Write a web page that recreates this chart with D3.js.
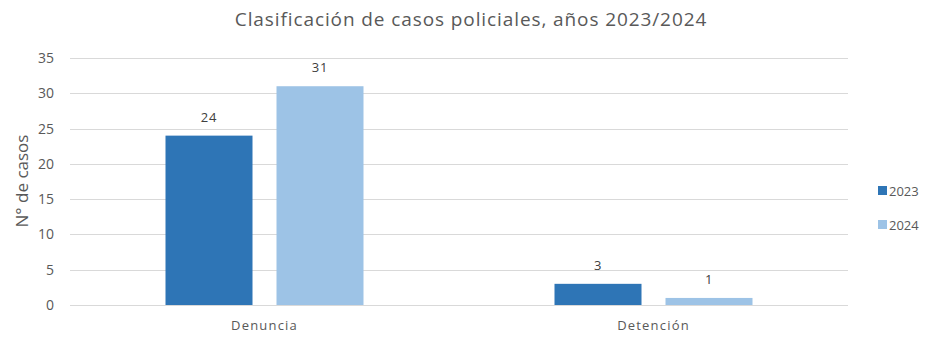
<!DOCTYPE html>
<html><head><meta charset="utf-8">
<script src="https://cdn.jsdelivr.net/npm/d3@7"></script>
<style>body{margin:0;background:#fff;} text{font-family:"Open Sans","Noto Sans",sans-serif;}</style>
</head><body><svg id="c" width="943" height="337"></svg>
<script>
const categories = ["Denuncia", "Detención"];
const years = ["2023", "2024"];
const values2023 = [24, 3];
const values2024 = [31, 1];
const yTicks = [0, 5, 10, 15, 20, 25, 30, 35];
const colors = ["#2E75B6", "#9DC3E6"];

(function () {
const svg = d3.select("#c");
const mL = 70, mR = 848, mT = 58, mB = 305;
const x0 = d3.scaleBand().domain(categories).range([mL, mR]).padding(0);
const groupW = 198;
const x1 = d3.scaleBand().domain(years).range([0, groupW]).paddingInner(0.2162).paddingOuter(0);
const y = d3.scaleLinear().domain([0, 35]).range([mB, mT]);

// grid
svg.append("g").selectAll("line").data(yTicks).join("line")
  .attr("x1", mL).attr("x2", mR)
  .attr("y1", d => Math.round(y(d)) + 0.5).attr("y2", d => Math.round(y(d)) + 0.5)
  .attr("stroke", "#D9D9D9").attr("stroke-width", 1);

// y axis labels
const ya = d3.axisLeft(y).tickValues(yTicks).tickSize(0).tickPadding(0);
const yg = svg.append("g").attr("transform", `translate(54,0)`).call(ya);
yg.select(".domain").remove();
yg.selectAll("text").attr("fill", "#595959").style("font-size", "14px");

// x axis labels
const xa = d3.axisBottom(x0).tickSize(0).tickPadding(0);
const xg = svg.append("g").attr("transform", `translate(0,${mB + 16})`).call(xa);
xg.select(".domain").remove();
xg.selectAll("text").attr("fill", "#595959").style("font-size", "13px").style("letter-spacing", "1.2px");

const rows = categories.map((c, i) => ({cat: c, vals: [values2023[i], values2024[i]]}));
const g = svg.append("g");
rows.forEach(r => {
  const off = x0(r.cat) + (x0.bandwidth() - groupW) / 2;
  years.forEach((yr, j) => {
    const v = r.vals[j];
    g.append("rect").attr("x", off + x1(yr)).attr("width", x1.bandwidth())
      .attr("y", y(v)).attr("height", y(0) - y(v)).attr("fill", colors[j]);
    g.append("text").attr("x", off + x1(yr) + x1.bandwidth() / 2).attr("y", y(v) - 14)
      .attr("text-anchor", "middle").attr("fill", "#404040").style("font-size", "13px")
      .style("letter-spacing", "0.8px").text(v);
  });
});

// title
svg.append("text").attr("x", 471).attr("y", 26).attr("text-anchor", "middle")
  .attr("fill", "#595959").style("font-size", "19px").style("letter-spacing", "0.9px")
  .text("Clasificación de casos policiales, años 2023/2024");

// y title
svg.append("text").attr("transform", "translate(28,181) rotate(-90)").attr("text-anchor", "middle")
  .attr("fill", "#595959").style("font-size", "17px").text("N° de casos");

// legend
const lg = svg.append("g");
years.forEach((yr, j) => {
  const ly = 191 + j * 34;
  lg.append("rect").attr("x", 878).attr("y", ly - 5).attr("width", 9).attr("height", 9).attr("fill", colors[j]);
  lg.append("text").attr("x", 889).attr("y", ly).attr("dy", "0.35em").attr("fill", "#595959")
    .style("font-size", "13px").text(yr);
});
})();
</script></body></html>
